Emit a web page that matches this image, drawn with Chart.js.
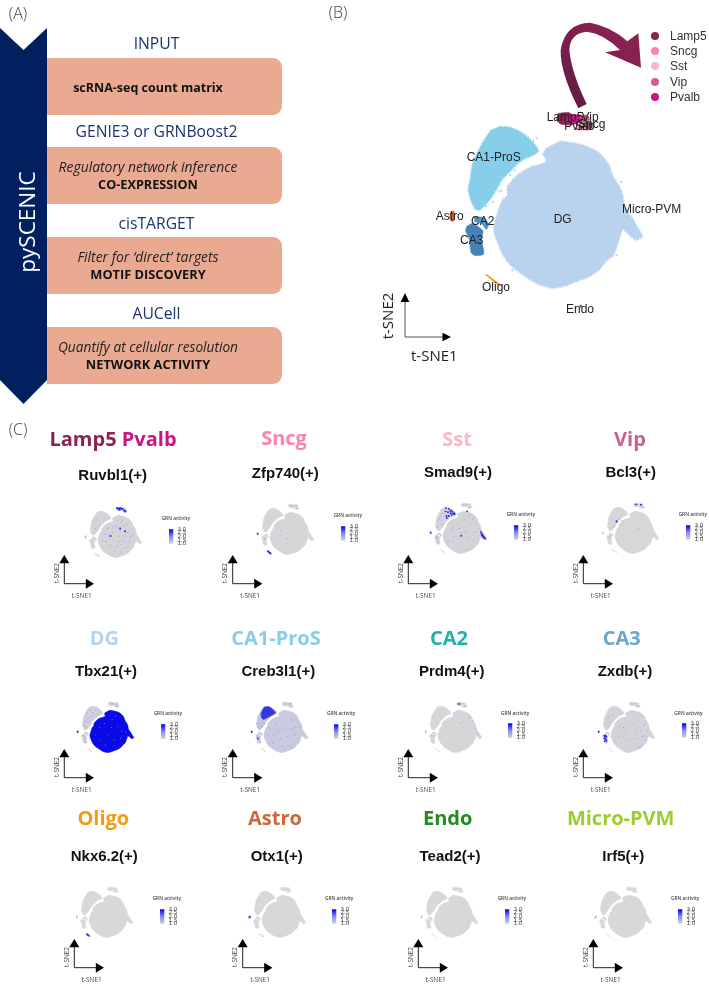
<!DOCTYPE html>
<html><head><meta charset="utf-8">
<script src="https://cdn.jsdelivr.net/npm/chart.js@4/dist/chart.umd.js"></script>
<style>
html,body{margin:0;padding:0;background:#fff;width:709px;height:984px;overflow:hidden}
#page{position:relative;width:709px;height:984px;overflow:hidden;filter:blur(0.3px)}
.t{position:absolute;white-space:nowrap;transform:translate(-50%,-50%);line-height:1}
.box{position:absolute;left:47px;width:235px;height:56.5px;background:#eaaa92;border-radius:0 9px 9px 0}
canvas{position:absolute;display:block}
svg{position:absolute;left:0;top:0}
</style></head><body><div id="page"></div>
<script>
// ---------- t-SNE cluster outlines (t-SNE1, t-SNE2 in plot units) ----------
const clusterNames = ['DG','CA1-ProS','CA3','CA2','Lamp5','Pvalb','Vip','Sncg','Sst','Astro','Oligo','Endo','Micro-PVM'];
const dgOutline = [[570,420],[610,425],[650,435],[690,455],[720,490],[735,530],[755,560],[765,590],[770,620],[790,650],[808,680],[825,712],[805,722],[790,712],[765,690],[755,715],[745,745],[735,770],[715,785],[690,815],[660,835],[620,850],[590,862],[550,870],[500,855],[460,830],[420,800],[395,765],[378,725],[368,690],[380,640],[395,600],[410,585],[410,560],[440,525],[480,500],[515,490],[530,480],[520,460],[530,440]];
const ca1Outline = [[385,375],[420,378],[455,395],[480,415],[497,435],[505,450],[490,462],[465,472],[440,490],[415,515],[395,535],[375,570],[355,600],[325,630],[312,628],[300,605],[290,570],[297,530],[303,490],[320,450],[340,415],[360,385]];
const ca3Outline = [[298,672],[318,680],[335,695],[330,720],[337,765],[310,770],[298,760],[293,720],[282,695],[285,680]];
const ca2Outline = [[308,652],[338,654],[352,675],[345,690],[330,672],[308,666]];
const lamp5Outline = [[565,335],[600,333],[612,345],[608,368],[575,368],[560,355]];
const pvalbOutline = [[595,340],[635,340],[640,355],[615,368],[590,366]];
const vipOutline = [[632,342],[655,340],[662,352],[650,366],[635,360]];
const sncgOutline = [[640,368],[668,366],[672,382],[650,388]];
const sstOutline = [[622,366],[645,366],[648,386],[625,386]];
const astroOutline = [[236,634],[245,634],[248,650],[245,664],[236,664],[232,650]];
const oligoOutline = [[341,828],[346,828],[388,860],[384,864]];
const endoOutline = [[632,922],[638,922],[638,928],[632,928]];
const microOutline = [[843,625],[850,625],[850,629],[843,629]];
const hotCa1Outline = [[370,385],[420,382],[470,420],[490,445],[440,478],[400,500],[362,518],[340,490],[340,440]];
const outliers = [[500,410],[490,418],[392,572],[418,524],[432,508],[385,574],[365,605],[345,620],[760,545],[500,840],[745,770],[425,815]];

// ---------- panel B colours ----------
const clusterColours = ['#b9d3ee','#87ceeb','#4682b4','#4f94cd','#8b2252','#c71585','#cd6090','#ff82ab','#ffb5c5','#cd6839','#ee9a00','#228b22','#9acd32'];
const legendLabels = ['Lamp5','Sncg','Sst','Vip','Pvalb'];
const legendColours = ['#8b2252','#ff82ab','#ffb5c5','#cd6090','#c71585'];

// ---------- panel C regulons ----------
const cellTypes = ['Lamp5 Pvalb','Sncg','Sst','Vip','DG','CA1-ProS','CA2','CA3','Oligo','Astro','Endo','Micro-PVM'];
const regulons = ['Ruvbl1(+)','Zfp740(+)','Smad9(+)','Bcl3(+)','Tbx21(+)','Creb3l1(+)','Prdm4(+)','Zxdb(+)','Nkx6.2(+)','Otx1(+)','Tead2(+)','Irf5(+)'];
const grnTicks = [1.0,1.5,2.0,2.5,3.0];

const strongCells = [
 [[565,345],[580,350],[595,345],[610,352],[625,350],[590,360],[605,342],[575,340],[640,365],[650,372],[655,378],[600,560],[650,590],[500,640]],
 [[240,648],[347,835],[355,842],[365,850],[375,858]],
 [[400,385],[430,395],[455,410],[470,425],[485,440],[450,440],[430,470],[410,490],[460,460],[395,420],[420,430],[445,420],[475,445],[490,450],[405,470],[770,660],[785,680],[800,700],[810,712],[790,700],[775,680],[795,690],[780,665],[765,640],[240,648],[560,680],[620,420]],
 [[590,345],[640,350],[385,525]],
 [[240,648]],
 [[240,648],[305,720]],
 [[590,352]],
 [[300,690],[310,710],[315,730],[305,750],[320,700],[300,720],[312,690],[322,745],[240,648]],
 [[347,835],[358,843],[368,852]],
 [[240,648],[238,655]],
 [],
 []
];
const weakCells = [
 [[470,560],[520,600],[560,540],[600,580],[640,530],[680,600],[710,650],[480,640],[530,680],[590,640],[630,690],[660,640],[450,700],[500,740],[560,760],[610,730],[660,760],[700,700],[440,620],[570,480],[620,470],[680,520],[520,540],[590,700],[540,800],[610,810],[730,620],[420,690],[350,470],[385,520],[340,560],[316,680],[230,648],[345,835],[370,850]],
 [[570,345],[600,350],[640,350],[650,375],[310,710],[320,690],[480,610],[640,570],[550,700],[700,640]],
 [[570,350],[610,345],[640,370],[305,700],[310,720],[320,750],[300,680],[340,470],[360,440],[320,520],[350,560],[310,590],[330,500],[470,600],[520,560],[590,510],[640,470],[680,500],[720,560],[740,600],[480,690],[560,650],[640,700],[690,730],[710,640],[650,560],[560,790],[610,830],[540,600],[600,640],[420,740]],
 [[380,540],[370,570],[355,590],[410,500],[395,540],[240,648],[320,680],[310,700],[345,835],[570,350],[600,348],[650,350],[660,375],[620,600],[440,520]],
 [[570,350],[600,345],[640,355],[650,375],[340,450],[370,420],[400,440],[350,500],[320,540],[310,580],[360,540],[430,420],[450,460],[390,480],[300,690],[315,720],[320,755],[330,600]],
 [[330,560],[310,600],[350,540],[320,520],[370,560],[300,560],[340,590],[420,600],[500,560],[590,520],[660,520],[700,600],[470,680],[540,720],[620,700],[690,680],[460,770],[560,800],[640,800],[720,720],[520,640],[590,620],[660,610],[740,600],[410,690],[570,350],[640,350],[305,700]],
 [[570,345],[620,350],[650,375],[240,648],[760,610],[700,500],[735,530],[790,680],[770,660],[610,560],[640,600],[330,690],[760,720]],
 [[570,348],[610,350],[650,372],[700,480],[735,535],[720,580],[680,640],[640,720],[700,700],[730,740],[690,790],[660,810],[460,590],[520,640],[450,700],[500,600],[590,560],[620,660],[560,740],[745,640],[340,500],[380,470],[730,690]],
 [[240,648],[345,835]],
 [[345,835],[372,855]],
 [[240,648],[635,925]],
 [[240,648],[235,655]]
];
const tbx21PaleCells = [[470,600],[520,560],[600,520],[660,590],[700,640],[560,680],[620,740],[480,730],[530,790],[690,720],[740,650],[590,600],[430,680],[640,480]];

// ---------- layout (page pixels) ----------
const panelLeft = [87.3,259.3,432.3,604.3,79.3,252.7,426.7,600,78.3,250.7,423.3,596.7];
const panelTop = [504,501,500,500,699,699,698.7,698.7,884,884,884,884];
const arrowX = [64.3,232.7,408.3,583.3,64.3,232.7,408.3,583.3,74.3,242.7,418.3,593.3];
const arrowY = [583.7,583.7,583.7,583.7,777.7,777.7,777.7,777.7,967.7,967.7,967.7,967.7];
const titleX = [113,284,457,630,104.3,276,449,621.7,103.3,275,447.7,620.7];
const titleY = [438,437,438,438,637,637,637,637,817,817,817,817];
const titleCol = ['#8b2252','#ff82ab','#ffb5c5','#cd6090','#b9d3ee','#87ceeb','#20b2aa','#6ca6cd','#f39c12','#cd6839','#228b22','#9acd32'];
const geneX = [112.7,285.3,458,630.7,106,278.3,451.7,625,104.3,276.7,450,623.3];
const geneY = [474,471.7,470.7,471,670,670,670,670,855,855,855,855];
const panelBase = ['#d4d4d8','#d6d6d8','#d3d3d9','#d7d7d7','#cfcfe2','#c9c9e0','#d6d6d9','#d3d3d9','#d8d8d8','#d8d8d8','#d8d8d8','#d8d8d8'];

const page = document.getElementById('page');
const SANS = '"Liberation Sans",Arial,sans-serif', OS = '"Open Sans",sans-serif';
function txt(s,x,y,size,col,opts={}){
  const d=document.createElement('div');d.className='t';d.textContent=s;
  d.style.cssText+=`left:${x}px;top:${y}px;font:${opts.style||'normal'} ${opts.weight||400} ${size}px ${opts.font||OS};color:${col};`;
  if(opts.rot)d.style.transform=`translate(-50%,-50%) rotate(${opts.rot}deg)`;
  page.appendChild(d);return d;
}
const pts = a => a.map(p=>({x:p[0],y:p[1]}));
function shape(outline,colour,rough){
  return {type:'scatter',data:pts(outline),showLine:true,fill:'shape',backgroundColor:colour,borderColor:colour,
    borderWidth:rough?2.2:0.6,borderDash:rough?[1,1.4]:[],pointRadius:0,tension:0.25};
}
function cells(list,colour,r){
  return {type:'scatter',data:pts(list),backgroundColor:colour,borderWidth:0,pointRadius:r,showLine:false};
}
function axisOpts(min,max,reverse){return {type:'linear',display:false,min,max,reverse};}
function makeChart(left,top,w,h,config){
  const c=document.createElement('canvas');c.width=w;c.height=h;
  c.style.cssText=`left:${left}px;top:${top}px;width:${w}px;height:${h}px`;
  page.appendChild(c);
  config.options=Object.assign({responsive:false,animation:false,events:[],plugins:{legend:{display:false},tooltip:{enabled:false}}},config.options);
  return new Chart(c,config);
}
// Chart.js paints the first dataset last, so list layers back-to-front and flip them.
const layers = a => a.slice().reverse();

// ---------- panel A ----------
const svgNS='http://www.w3.org/2000/svg';
const svg=document.createElementNS(svgNS,'svg');svg.setAttribute('width',709);svg.setAttribute('height',984);
svg.setAttribute('viewBox','0 0 709 984');
function addPath(d,fill,stroke,sw){const p=document.createElementNS(svgNS,'path');p.setAttribute('d',d);p.setAttribute('fill',fill||'none');if(stroke){p.setAttribute('stroke',stroke);p.setAttribute('stroke-width',sw);}svg.appendChild(p);}
[58,147,237,327].forEach(y=>{const b=document.createElement('div');b.className='box';b.style.top=y+'px';page.appendChild(b);});
addPath('M0 28L23.5 50L47 28L47 380L23.5 404L0 380Z','#002060');

// ---------- panel B ----------
const mainShapes=[dgOutline,ca1Outline,ca3Outline,ca2Outline,lamp5Outline,pvalbOutline,vipOutline,sncgOutline,sstOutline,astroOutline,oligoOutline,endoOutline,microOutline];
makeChart(370,0,339,400,{type:'scatter',data:{datasets:layers([
  cells(outliers,'#a6cfe8',1),
  ...mainShapes.map((o,i)=>shape(o,clusterColours[i],i<2))
])},options:{layout:{padding:0},scales:{x:axisOpts(0,1017,false),y:axisOpts(0,1200,true)}}});

// ---------- panel C small multiples ----------
const K=0.1067, padL=10, padT=5, cW=78, cH=66;
const grayShapes=[dgOutline,ca1Outline,ca3Outline,ca2Outline,lamp5Outline,pvalbOutline,vipOutline,sncgOutline,sstOutline,astroOutline,oligoOutline];
regulons.forEach((g,i)=>{
  const base=panelBase[i];
  const ds=grayShapes.map((o,j)=>shape(o,(j===0&&i===4)?'#0a0ae6':base));
  if(i===5) ds.push(shape(hotCa1Outline,'#3535e0'));
  if(i===4) ds.push(cells(tbx21PaleCells,'rgba(170,170,250,0.7)',0.55));
  ds.push(cells(weakCells[i],'rgba(90,90,235,0.55)',0.55));
  ds.push(cells(strongCells[i],'#2828f0',0.95));
  const xMin=285-padL/K, yMin=335-padT/K;
  makeChart(panelLeft[i]-padL,panelTop[i]-padT,cW,cH,{type:'scatter',data:{datasets:layers(ds)},
    options:{layout:{padding:0},scales:{x:axisOpts(xMin,xMin+cW/K,false),y:axisOpts(yMin,yMin+cH/K,true)}}});

  // GRN activity colour bar, a floating bar on its own numeric axis
  const bx=panelLeft[i]+81.5, by=panelTop[i]+21.7;
  makeChart(bx,by-4,26,29,{type:'bar',data:{labels:['GRN'],datasets:[{
      data:[[grnTicks[0],grnTicks[grnTicks.length-1]]],barPercentage:1,categoryPercentage:1,
      backgroundColor:ctx=>{const a=ctx.chart.chartArea;if(!a)return '#88f';
        const gr=ctx.chart.ctx.createLinearGradient(0,a.top,0,a.bottom);
        gr.addColorStop(0,'#0000ff');gr.addColorStop(0.5,'#8a8af0');gr.addColorStop(1,'#d3d3d3');return gr;}
    }]},
    options:{layout:{padding:{top:4,bottom:4,left:0,right:0}},scales:{
      x:{display:false},
      y:{position:'right',min:1,max:3,afterFit:s=>{s.width=21.6;},
         afterBuildTicks:s=>{s.ticks=grnTicks.map(v=>({value:v}));},
         grid:{display:false,drawTicks:false},border:{display:false},
         ticks:{autoSkip:false,padding:4,font:{size:5.6,family:'"DejaVu Sans"'},color:'#444',
                callback:v=>Number(v).toFixed(1)}}
    }}});
  txt('GRN activity',bx+7,by-7.3,4.8,'#444',{weight:600});
  if(i>0) txt(cellTypes[i],titleX[i],titleY[i],20,titleCol[i],{weight:700});
  txt(g,geneX[i],geneY[i],15,'#111',{font:SANS,weight:700});

  const ox=arrowX[i],oy=arrowY[i];
  addPath(`M${ox} ${oy-22}L${ox} ${oy}L${ox+22} ${oy}`,'none','#222',1);
  addPath(`M${ox-5} ${oy-20.5}L${ox} ${oy-28.7}L${ox+5} ${oy-20.5}Z`,'#000');
  addPath(`M${ox+21.5} ${oy-5}L${ox+29.7} ${oy}L${ox+21.5} ${oy+5}Z`,'#000');
  txt('t-SNE1',ox+17.4,oy+11.7,6.4,'#444');
  txt('t-SNE2',ox-8.3,oy-10.7,6.4,'#444',{rot:-90});
});
page.appendChild(svg);

// curved arrow and main axis arrows in panel B
const zx=v=>370+v/3, zy=v=>v/3;
const defs=document.createElementNS(svgNS,'defs');
defs.innerHTML='<linearGradient id="ag" x1="0" y1="1" x2="0.6" y2="0"><stop offset="0" stop-color="#5e1b40"/><stop offset="1" stop-color="#8b2252"/></linearGradient>';
svg.appendChild(defs);
addPath(`M${zx(625)} ${zy(325)}Q${zx(570)} ${zy(215)} ${zx(572)} ${zy(150)}Q${zx(585)} ${zy(70)} ${zx(660)} ${zy(68)}Q${zx(725)} ${zy(80)} ${zx(772)} ${zy(124)}L${zx(805)} ${zy(100)}L${zx(813)} ${zy(203)}L${zx(705)} ${zy(157)}L${zx(750)} ${zy(150)}Q${zx(700)} ${zy(100)} ${zx(650)} ${zy(95)}Q${zx(600)} ${zy(100)} ${zx(598)} ${zy(150)}Q${zx(605)} ${zy(220)} ${zx(650)} ${zy(312)}Z`,'url(#ag)');
addPath('M405 298L405 337L446 337','none','#555',1);
addPath('M400.7 302L405 293L409.3 302Z','#000');
addPath('M442.5 332.7L451 337L442.5 341.3Z','#000');

// ---------- text ----------
const hCol='#1f3272';
txt('(A)',18,13,16,'#444',{weight:300});
txt('(B)',338,12,16,'#444',{weight:300});
txt('(C)',18,429,16,'#444',{weight:300});
txt('pySCENIC',26,222,22.5,'#fff',{rot:-90,weight:400});
txt('INPUT',156.5,43,15.7,hCol);
txt('GENIE3 or GRNBoost2',156.5,131,15.7,hCol);
txt('cisTARGET',156.5,223,15.7,hCol);
txt('AUCell',156.5,313,15.7,hCol);
txt('scRNA-seq count matrix',148,87,12.5,'#111',{weight:700});
txt('Regulatory network inference',148,166,13.9,'#222',{style:'italic'});
txt('CO-EXPRESSION',148,184,12.7,'#111',{weight:700});
txt('Filter for ‘direct’ targets',148,256,13.9,'#222',{style:'italic'});
txt('MOTIF DISCOVERY',148,274,12.8,'#111',{weight:700});
txt('Quantify at cellular resolution',148,346,13.7,'#222',{style:'italic'});
txt('NETWORK ACTIVITY',148,364,12.8,'#111',{weight:700});

// Two-tone title for the first panel
const ttl=txt('',113,438,20,'#8b2252',{weight:700});
ttl.innerHTML='Lamp5 <span style="color:#c71585">Pvalb</span>';

const bLabels=['Lamp5','Vip','Pvalb','Sst','Sncg','CA1-ProS','Astro','CA2','CA3','DG','Micro-PVM','Oligo','Endo'];
const bLabelX=[585,660,628,640,665,371,239,338,305,578,845,378,630];
const bLabelY=[350,350,377,378,373,470,647,663,720,658,627,860,926];
bLabels.forEach((s,i)=>txt(s,zx(bLabelX[i]),zy(bLabelY[i]),12,'#222',{font:SANS}));
legendLabels.forEach((s,i)=>{
  const y=zy(107+46*i);
  const dot=document.createElement('div');
  dot.style.cssText=`position:absolute;left:${651}px;top:${y-4}px;width:8px;height:8px;border-radius:50%;background:${legendColours[i]}`;
  page.appendChild(dot);
  const t=txt(s,670,y,12,'#333',{font:SANS});t.style.transform='translate(0,-50%)';
});
txt('t-SNE1',434.3,355,15,'#222');
txt('t-SNE2',386.7,315.7,15,'#222',{rot:-90});
</script></body></html>
